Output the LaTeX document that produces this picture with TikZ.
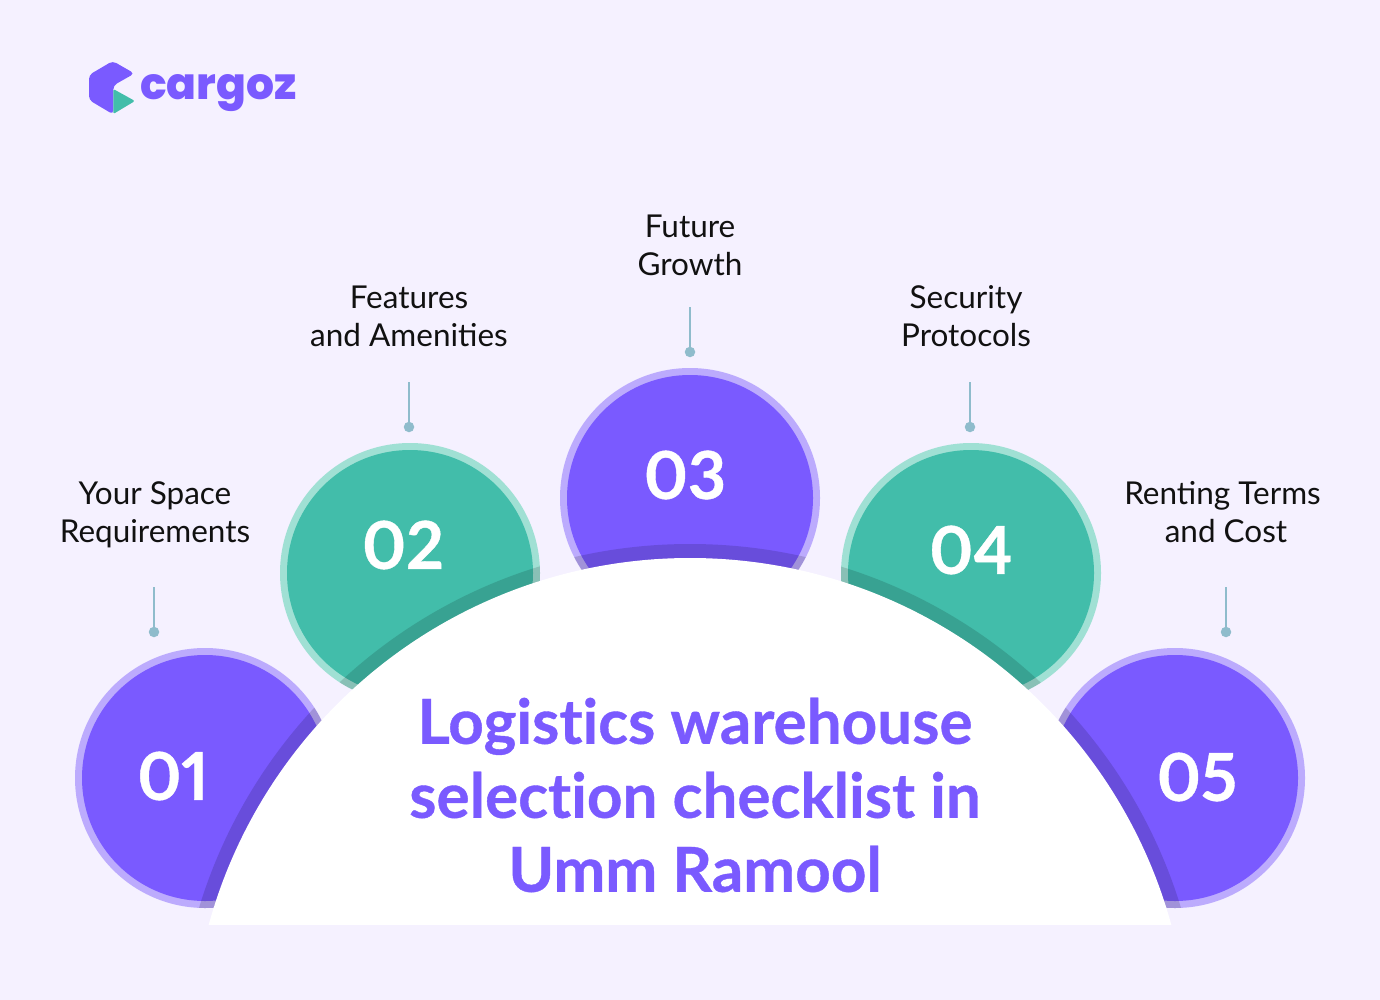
\documentclass[tikz,border=0pt]{standalone}
\usepackage{fontspec}
\setmainfont{Lato}
\newfontfamily\logofont{Poppins}[BoldFont=Poppins ExtraBold]
\newfontfamily\titlefont{Lato}[BoldFeatures={FakeBold=0.6,Ligatures=CommonOff},LetterSpace=0]
\newfontfamily\numfont{Lato}[Numbers=Proportional,BoldFeatures={FakeBold=0.6}]
\definecolor{bgc}{HTML}{F5F1FF}
\definecolor{purp}{HTML}{7A5AFF}
\definecolor{purpring}{HTML}{BCABFD}
\definecolor{teal}{HTML}{42BDAA}
\definecolor{tealring}{HTML}{A0E0D4}
\definecolor{leadc}{HTML}{8FBCCC}
\definecolor{inkc}{HTML}{111111}
\tikzset{
  x=1pt,y=-1pt,
  leader/.style={draw=leadc,line width=2pt},
  leaderdot/.style={circle,fill=leadc,inner sep=0pt,minimum size=10.5pt},
  lab/.style={font=\fontsize{31.5}{38}\selectfont,text=inkc,align=center,inner sep=0pt},
  num/.style={font=\numfont\fontsize{66}{66}\selectfont\bfseries,text=white,inner sep=0pt}
}
\newcommand{\bubbleat}[3]{%
  \fill[#2] (#1) circle[radius=130pt];
  \fill[#3] (#1) circle[radius=123pt];
  \begin{scope}
    \clip (#1) circle[radius=130pt];
    \fill[black,opacity=.14] (690,1057) circle[radius=513pt];
  \end{scope}}
\begin{document}
\begin{tikzpicture}
\useasboundingbox (0,0) rectangle (1380,1000);
\fill[bgc] (0,0) rectangle (1380,1000);
% logo
\fill[purp,rounded corners=4pt] (112.7,61) -- (134.5,73.5) -- (113.3,85.5) -- (113.3,114.5) -- (89,100) -- (89,75) -- cycle;
\fill[teal,rounded corners=1.5pt] (113.3,89) -- (135,101) -- (113.3,114) -- cycle;
\node[anchor=base west,inner sep=0pt,text=purp,font=\logofont\fontsize{44}{44}\selectfont\bfseries] (logo) at (140,100) {cargoz};
% bubbles
\coordinate (c1) at (205,778);
\coordinate (c2) at (410,573);
\coordinate (c3) at (690,498);
\coordinate (c4) at (971,573);
\coordinate (c5) at (1175,778);
\bubbleat{c1}{purpring}{purp}
\bubbleat{c2}{tealring}{teal}
\bubbleat{c3}{purpring}{purp}
\bubbleat{c4}{tealring}{teal}
\bubbleat{c5}{purpring}{purp}
% dome
\begin{scope}
  \clip (0,0) rectangle (1380,924);
  \fill[white] (690,1057) circle[radius=499pt];
\end{scope}
% numbers
\node[num] (n1) at (173,776) {01};
\node[num] (n2) at (403,545) {02};
\node[num] (n3) at (685,475) {03};
\node[num] (n4) at (971,550) {04};
\node[num] (n5) at (1197,777) {05};
% labels
\node[lab] (l1) at (155,515) {Your Space\\Requirements};
\node[lab] (l2) at (409,316) {Features\\and Amenities};
\node[lab] (l3) at (690,245) {Future\\Growth};
\node[lab] (l4) at (966,316) {Security\\Protocols};
\node[lab] (l5) at (1222.5,512) {Renting Terms\\\hspace*{7pt}and Cost};
% leaders
\node[leaderdot] (d1) at (154,632) {};
\node[leaderdot] (d2) at (409,427) {};
\node[leaderdot] (d3) at (690,352) {};
\node[leaderdot] (d4) at (970,427) {};
\node[leaderdot] (d5) at (1226,632) {};
\coordinate (t1) at (154,587);
\coordinate (t2) at (409,382);
\coordinate (t3) at (690,307);
\coordinate (t4) at (970,382);
\coordinate (t5) at (1226,587);
\foreach \i in {1,...,5} \draw[leader] (t\i) -- (d\i.center);
% title
\node[font=\titlefont\fontsize{62}{74}\selectfont\bfseries,text=purp,align=center,inner sep=0pt] (title) at (695,795) {Logistics warehouse\\selection checklist in\\Umm Ramool};
\end{tikzpicture}
\end{document}
